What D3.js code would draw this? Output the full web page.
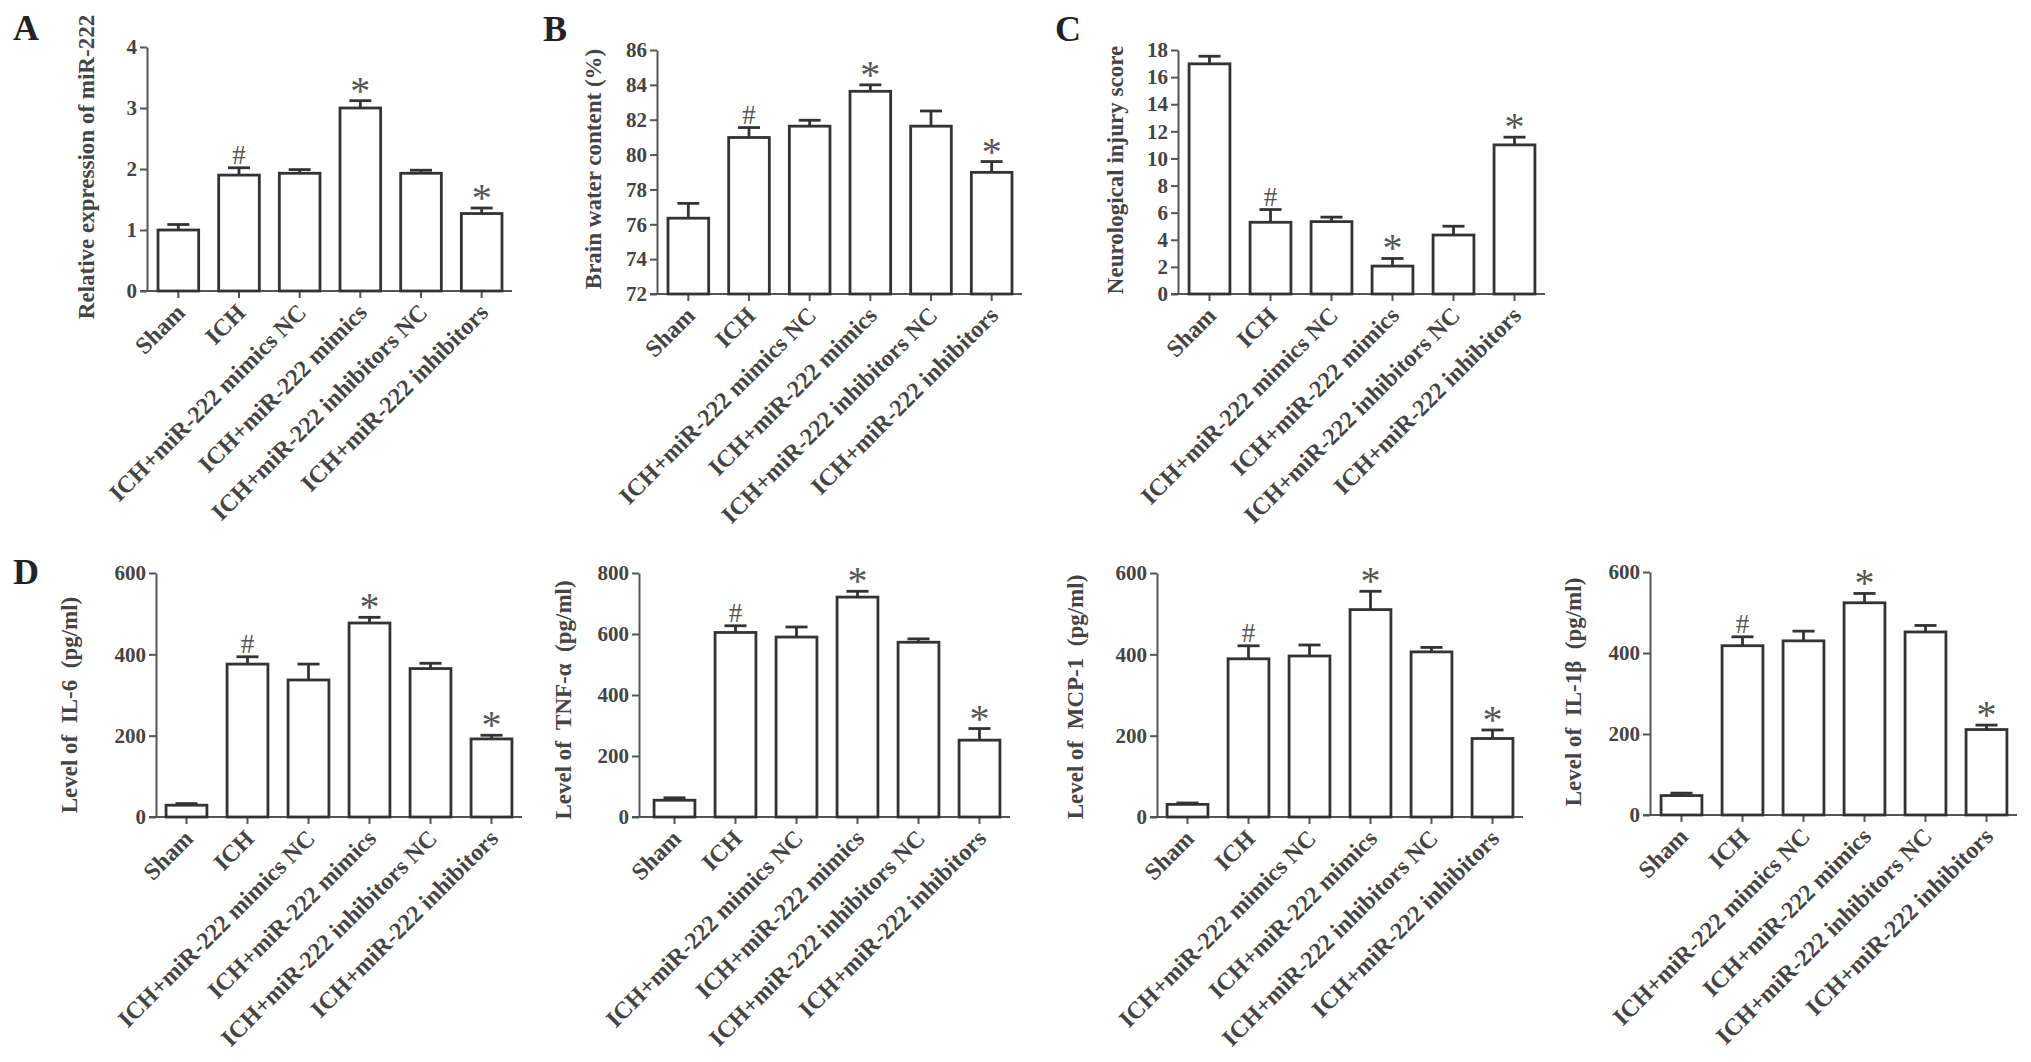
<!DOCTYPE html>
<html>
<head>
<meta charset="utf-8">
<script src="https://cdn.jsdelivr.net/npm/d3@7"></script>
<style>
  body { margin: 0; background: #fff; }
  svg text { font-family: "Liberation Serif", "Times New Roman", serif; }
</style>
</head>
<body>
<div id="chart"></div>
<script>
const categories = [
  "Sham",
  "ICH",
  "ICH+miR-222 mimics NC",
  "ICH+miR-222 mimics",
  "ICH+miR-222 inhibitors NC",
  "ICH+miR-222 inhibitors",
];
const marks = ["", "#", "", "*", "", "*"];

const mirMeans = [1.0, 1.9, 1.93, 3.0, 1.93, 1.27];
const mirErr = [0.09, 0.12, 0.06, 0.12, 0.05, 0.09];
const mirTicks = [0, 1, 2, 3, 4];

const waterMeans = [76.35, 80.98, 81.63, 83.63, 81.63, 78.98];
const waterErr = [0.85, 0.57, 0.34, 0.37, 0.87, 0.62];
const waterTicks = [72, 74, 76, 78, 80, 82, 84, 86];

const scoreMeans = [16.98, 5.29, 5.34, 2.06, 4.35, 11.0];
const scoreErr = [0.56, 0.94, 0.33, 0.56, 0.65, 0.57];
const scoreTicks = [0, 2, 4, 6, 8, 10, 12, 14, 16, 18];

const il6Means = [29, 376, 337, 477, 365, 192];
const il6Err = [4, 18, 39, 14, 13, 9];
const tnfMeans = [55, 605, 590, 721, 573, 252];
const tnfErr = [8, 22, 33, 19, 11, 38];
const mcpMeans = [31, 389, 396, 510, 406, 193];
const mcpErr = [3.5, 32, 27, 45, 11, 21];
const il1bMeans = [48, 418, 430, 524, 452, 211];
const il1bErr = [6, 22, 24, 23, 16, 11];
const cytoTicks600 = [0, 200, 400, 600];
const cytoTicks800 = [0, 200, 400, 600, 800];

const W = 2031, H = 1062;
const svg = d3.select("#chart").append("svg")
  .attr("width", W).attr("height", H);

// panel boxes in page pixels
const panels = [
  { means: mirMeans, err: mirErr, ticks: mirTicks, title: "Relative expression of miR-222",
    axisX: 147, x0: 148, x1: 512, top: 47, bottom: 291, titleX: 86, titleY: 167 },
  { means: waterMeans, err: waterErr, ticks: waterTicks, title: "Brain water content (%)",
    axisX: 657, x0: 658, x1: 1022, top: 50, bottom: 294, titleX: 593, titleY: 169 },
  { means: scoreMeans, err: scoreErr, ticks: scoreTicks, title: "Neurological injury score",
    axisX: 1178, x0: 1179, x1: 1545, top: 50, bottom: 294, titleX: 1115, titleY: 170 },
  { means: il6Means, err: il6Err, ticks: cytoTicks600, title: "Level of  IL-6  (pg/ml)",
    axisX: 156, x0: 156, x1: 522, top: 573, bottom: 817, titleX: 69, titleY: 705 },
  { means: tnfMeans, err: tnfErr, ticks: cytoTicks800, title: "Level of  TNF-α  (pg/ml)",
    axisX: 639, x0: 644, x1: 1010, top: 573, bottom: 817, titleX: 563, titleY: 700 },
  { means: mcpMeans, err: mcpErr, ticks: cytoTicks600, title: "Level of  MCP-1  (pg/ml)",
    axisX: 1157, x0: 1157, x1: 1523, top: 573, bottom: 817, titleX: 1075, titleY: 697 },
  { means: il1bMeans, err: il1bErr, ticks: cytoTicks600, title: "Level of  IL-1β  (pg/ml)",
    axisX: 1650, x0: 1651, x1: 2017, top: 572, bottom: 815, titleX: 1573, titleY: 692 },
];

const letters = [
  { t: "A", x: 26, y: 28 },
  { t: "B", x: 555, y: 29 },
  { t: "C", x: 1068, y: 29 },
  { t: "D", x: 26, y: 572 },
];

const ink = "#333";
const textInk = "#444";

panels.forEach((p) => {
  const g = svg.append("g");

  const x = d3.scaleBand().domain(categories).range([p.x0, p.x1]).paddingInner(0.33).paddingOuter(0.165);
  const y = d3.scaleLinear()
    .domain([p.ticks[0], p.ticks[p.ticks.length - 1]])
    .range([p.bottom, p.top]);

  // x axis line (runs a tick length left of the y axis)
  g.append("line")
    .attr("x1", p.axisX - 7).attr("x2", p.x1)
    .attr("y1", p.bottom).attr("y2", p.bottom)
    .attr("stroke", "#555").attr("stroke-width", 2);

  // y axis
  const yAxis = g.append("g")
    .attr("transform", "translate(" + p.axisX + ",0)")
    .call(d3.axisLeft(y).tickValues(p.ticks).tickFormat(d3.format("d"))
      .tickSize(7).tickSizeOuter(0).tickPadding(3));
  yAxis.select(".domain").attr("stroke", "#555").attr("stroke-width", 2);
  yAxis.selectAll(".tick line").attr("stroke", "#555").attr("stroke-width", 2);
  yAxis.selectAll(".tick text")
    .attr("fill", textInk).attr("font-size", 21).attr("font-weight", "bold")
    .style("font-family", '"Liberation Serif", serif');

  // x ticks and labels
  const xt = g.append("g").selectAll("g").data(categories).enter().append("g")
    .attr("transform", (d) => "translate(" + (x(d) + x.bandwidth() / 2) + "," + p.bottom + ")");
  xt.append("line").attr("y2", 7).attr("stroke", "#555").attr("stroke-width", 2);
  xt.append("text")
    .attr("transform", "translate(8,23) rotate(-45)")
    .attr("text-anchor", "end")
    .attr("fill", textInk).attr("font-size", 24).attr("font-weight", "bold")
    .text((d) => d);

  // bars
  const bw = x.bandwidth();
  g.append("g").selectAll("rect").data(p.means).enter().append("rect")
    .attr("x", (d, i) => x(categories[i]))
    .attr("y", (d) => y(d))
    .attr("width", bw)
    .attr("height", (d) => p.bottom - y(d))
    .attr("fill", "#fff").attr("stroke", ink).attr("stroke-width", 2.8);

  // error bars (upper only)
  const eb = g.append("g").selectAll("g").data(p.means).enter().append("g")
    .attr("transform", (d, i) => "translate(" + (x(categories[i]) + bw / 2) + ",0)");
  eb.append("line")
    .attr("y1", (d) => y(d)).attr("y2", (d, i) => y(d + p.err[i]))
    .attr("stroke", ink).attr("stroke-width", 2.8);
  eb.append("line")
    .attr("x1", -bw * 0.27).attr("x2", bw * 0.27)
    .attr("y1", (d, i) => y(d + p.err[i])).attr("y2", (d, i) => y(d + p.err[i]))
    .attr("stroke", ink).attr("stroke-width", 2.8);

  // significance marks
  eb.append("text")
    .attr("text-anchor", "middle")
    .attr("y", (d, i) => y(d + p.err[i]) + (marks[i] === "*" ? 3 : -4))
    .attr("font-size", (d, i) => (marks[i] === "*" ? 40 : 27))
    .attr("fill", "#555")
    .text((d, i) => marks[i]);

  // y title
  g.append("text")
    .attr("transform", "translate(" + p.titleX + "," + p.titleY + ") rotate(-90)")
    .attr("text-anchor", "middle").attr("dominant-baseline", "central")
    .attr("fill", textInk).attr("font-size", 23).attr("font-weight", "bold")
    .style("white-space", "pre")
    .text(p.title);
});

svg.selectAll(".letter").data(letters).enter().append("text")
  .attr("class", "letter")
  .attr("x", (d) => d.x).attr("y", (d) => d.y)
  .attr("text-anchor", "middle").attr("dominant-baseline", "central")
  .attr("font-size", 36).attr("font-weight", "bold").attr("fill", "#222")
  .text((d) => d.t);
</script>
</body>
</html>
